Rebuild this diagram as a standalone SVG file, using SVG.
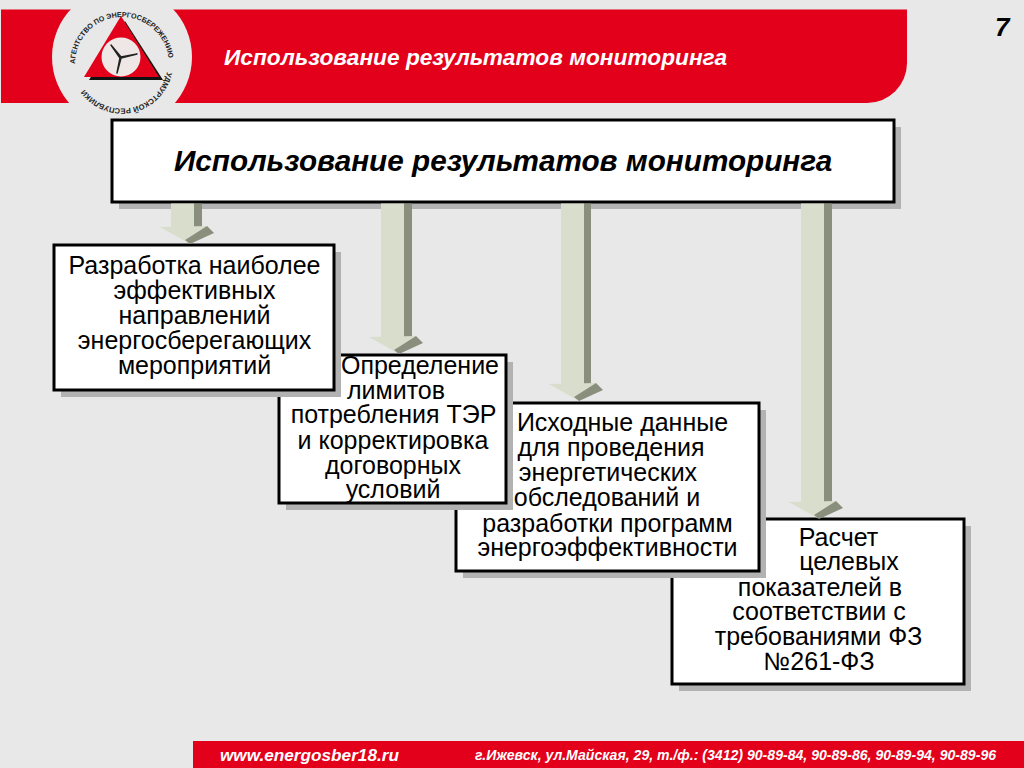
<svg xmlns="http://www.w3.org/2000/svg" width="1024" height="768" viewBox="0 0 1024 768">
<style>
text{font-family:"Liberation Sans",Arial,sans-serif;fill:#000}
.b{font-size:25px;text-anchor:middle}
.bi{font-weight:bold;font-style:italic}
.w{fill:#fff}
.box{fill:#fff;stroke:#000;stroke-width:3}
.sh{fill:#b2b2b2}
.lt{fill:#d9ddcb}
.dk{fill:#8a8e7c}
.logo{fill:#222;font-weight:bold}
</style>
<defs>
<g id="head">
<polygon class="lt" points="-21,0 26,-1 4,13 9,17"/>
<polygon class="dk" points="26,-1 33,6 9,17 4,13"/>
</g>
<path id="arcTop" d="M75,64A47,47 0 1 1 169,64"/>
<path id="arcBot" d="M167,72A46,46 0 0 1 77,72"/>
</defs>
<rect width="1024" height="768" fill="#e8e8e8"/>
<g id="banner">
<path d="M1,9.500H907V63A40,40 0 0 1 867,103H1Z" fill="#e2001a"/>
<circle cx="122" cy="57" r="70" fill="#e8e8e8"/>
<polygon points="125,21 163,80 89,80" fill="#111"/>
<polygon points="121,16 159,77 84,77" fill="#e2001a"/>
<circle cx="121" cy="57" r="19.500" fill="#efe6e6"/>
<path d="M111,45L121,57L137,54L121,58L117,73L120,58Z" fill="#222" stroke="#222" stroke-width="1.500" stroke-linejoin="round"/>
<text class="logo" font-size="7.200px"><textPath href="#arcTop">АГЕНТСТВО ПО ЭНЕРГОСБЕРЕЖЕНИЮ</textPath></text>
<text class="logo" font-size="7.600px"><textPath href="#arcBot">УДМУРТСКОЙ РЕСПУБЛИКИ</textPath></text>
<text class="bi w" x="224" y="65" font-size="22.700px">Использование результатов мониторинга</text>
</g>
<g id="page-number"><text class="bi" x="995" y="36" font-size="26px">7</text></g>
<g id="box4">
<rect class="sh" x="679" y="526" width="292" height="165"/>
<rect class="box" x="672" y="519" width="292" height="165"/>
<text class="b" x="838.500" y="546">Расчет</text>
<text class="b" x="849" y="570">целевых</text>
<text class="b" x="820" y="596">показателей в</text>
<text class="b" x="819" y="620">соответствии с</text>
<text class="b" x="818.500" y="645">требованиями ФЗ</text>
<text class="b" x="819" y="670">№261-ФЗ</text>
</g>
<g id="box3">
<rect class="sh" x="463" y="410" width="303" height="168"/>
<rect class="box" x="456" y="403" width="303" height="168"/>
<text class="b" x="622.500" y="431">Исходные данные</text>
<text class="b" x="611" y="456">для проведения</text>
<text class="b" x="608" y="481">энергетических</text>
<text class="b" x="607" y="506">обследований и</text>
<text class="b" x="607.500" y="532">разработки программ</text>
<text class="b" x="607.500" y="556">энергоэффективности</text>
</g>
<g id="box2">
<rect class="sh" x="286" y="362" width="227" height="148"/>
<rect class="box" x="279" y="355" width="227" height="148"/>
<text class="b" x="420" y="374">Определение</text>
<text class="b" x="396" y="399">лимитов</text>
<text class="b" x="393.500" y="423">потребления ТЭР</text>
<text class="b" x="393" y="449">и корректировка</text>
<text class="b" x="393" y="474">договорных</text>
<text class="b" x="393" y="498">условий</text>
</g>
<g id="box1">
<rect class="sh" x="61" y="252" width="280" height="145"/>
<rect class="box" x="54" y="245" width="280" height="145"/>
<text class="b" x="194.500" y="274">Разработка наиболее</text>
<text class="b" x="194.500" y="299">эффективных</text>
<text class="b" x="194.500" y="324">направлений</text>
<text class="b" x="194.500" y="349">энергосберегающих</text>
<text class="b" x="194.500" y="374">мероприятий</text>
</g>
<g id="main-box">
<rect class="sh" x="119" y="127" width="782" height="82"/>
<rect class="box" x="112" y="120" width="782" height="82"/>
<text class="bi" x="174" y="171" font-size="29.700px">Использование результатов мониторинга</text>
</g>
<g id="connectors">
<g><rect class="dk" x="194" y="203.500" width="8" height="24"/><rect class="lt" x="171" y="203.500" width="23" height="24"/><use href="#head" x="181" y="227"/></g>
<g><rect class="dk" x="404" y="203.500" width="8" height="134"/><rect class="lt" x="381" y="203.500" width="23" height="134"/><use href="#head" x="390" y="337"/></g>
<g><rect class="dk" x="584" y="203.500" width="7" height="181"/><rect class="lt" x="561" y="203.500" width="23" height="181"/><use href="#head" x="570" y="384"/></g>
<g><rect class="dk" x="824" y="203.500" width="8" height="299"/><rect class="lt" x="801" y="203.500" width="23" height="299"/><use href="#head" x="810" y="502"/></g>
</g>
<g id="footer">
<rect x="193" y="741" width="831" height="27" fill="#e2001a"/>
<text class="bi w" x="220" y="761" font-size="17.200px">www.energosber18.ru</text>
<text class="bi w" x="475" y="760" font-size="14.100px">г.Ижевск, ул.Майская, 29, т./ф.: (3412) 90-89-84, 90-89-86, 90-89-94, 90-89-96</text>
</g>
</svg>
